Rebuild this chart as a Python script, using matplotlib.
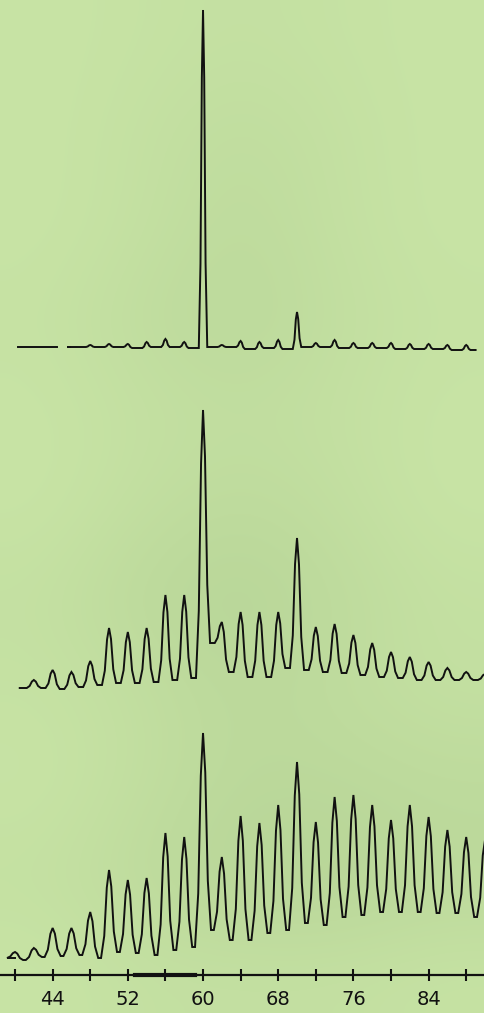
import numpy as np
import matplotlib
matplotlib.use("Agg")
import matplotlib.pyplot as plt
from matplotlib.colors import LinearSegmentedColormap

# cluster sizes (even carbon numbers), peak heights and the valley level right after each peak
n_top = [46, 48, 50, 52, 54, 56, 58, 60, 62, 64, 66, 68, 70, 72, 74, 76, 78, 80, 82, 84, 86, 88]
peak_top = [0, 2, 3, 3, 5, 8, 5, 337, 2, 6, 5, 7, 35, 4, 7, 4, 4, 4, 3, 3, 2, 2]
valley_top = [0, 0, 0, -1, 0, 0, -1, 0, 0, -2, -1, -2, 0, 0, -1, -1, -1, -2, -2, -2, -3, -3]

n_mid = [42, 44, 46, 48, 50, 52, 54, 56, 58, 60, 62, 64, 66, 68, 70, 72, 74, 76, 78, 80, 82, 84, 86, 88, 90]
peak_mid = [8, 18, 16, 27, 60, 56, 60, 93, 93, 278, 66, 76, 76, 76, 150, 61, 64, 53, 45, 36, 31, 26, 20, 16, 14]
valley_mid = [0, -1, 1, 3, 5, 5, 6, 8, 10, 45, 16, 11, 11, 20, 18, 16, 15, 13, 11, 10, 8, 8, 8, 8, 8]

n_bot = [40, 42, 44, 46, 48, 50, 52, 54, 56, 58, 60, 62, 64, 66, 68, 70, 72, 74, 76, 78, 80, 82, 84, 86, 88, 90]
peak_bot = [8, 12, 32, 32, 48, 90, 80, 82, 127, 123, 227, 103, 144, 137, 155, 198, 138, 163, 165, 155, 140, 155, 143, 130, 123, 120]
valley_bot = [0, 3, 4, 5, 2, 8, 7, 5, 10, 13, 30, 20, 20, 27, 30, 37, 35, 43, 45, 48, 48, 48, 47, 47, 43, 43]

tick_pos = list(range(40, 92, 4))
tick_lab = ["", "44", "", "52", "", "60", "", "68", "", "76", "", "84", ""]

# rough shading of the scanned page (0 = light, 1 = darkest), coarse grid top to bottom
shade = [
    [0.0, 0.1, 0.2, 0.1, 0.0],
    [0.0, 0.2, 0.4, 0.2, 0.0],
    [0.0, 0.2, 0.5, 0.2, 0.0],
    [0.1, 0.4, 0.6, 0.3, 0.1],
    [0.0, 0.2, 0.3, 0.2, 0.0],
    [0.0, 0.3, 0.5, 0.3, 0.0],
    [0.2, 0.6, 0.8, 0.5, 0.2],
    [0.1, 0.3, 0.6, 0.4, 0.2],
    [0.0, 0.3, 0.6, 0.6, 0.5],
    [0.2, 0.5, 0.8, 0.8, 0.6],
    [0.0, 0.2, 0.2, 0.2, 0.1],
]

bg = "#c8e4a5"
ink = "#111111"
shape_dx = [-1.0, -0.6, -0.28, 0.0, 0.28, 0.6, 1.0]
shape_fr = [0.0, 0.25, 0.8, 1.0, 0.8, 0.25, 0.0]


def trace(ax, n, peak, valley, base, x0, v0, w):
    xs = [x0]
    ys = [base + v0]
    prev = v0
    for k in range(len(n)):
        for d, f in zip(shape_dx, shape_fr):
            lo = prev if d < 0 else valley[k]
            xs.append(n[k] + d * w)
            ys.append(base + lo + f * (peak[k] - lo))
        prev = valley[k]
    xs.append(n[-1] + 1.0)
    ys.append(base + prev)
    ax.plot(xs, ys, color=ink, lw=1.4, solid_joinstyle="miter")


fig = plt.figure(figsize=(4.85, 10.13), dpi=100)
fig.patch.set_facecolor(bg)

back = fig.add_axes([0, 0, 1, 1])
back.axis("off")
cmap = LinearSegmentedColormap.from_list("paper", [bg, "#b3d194"])
back.imshow(np.array(shade), cmap=cmap, vmin=0, vmax=1, aspect="auto",
            interpolation="bicubic", extent=[0, 1, 0, 1])
back.set_xlim(0, 1)
back.set_ylim(0, 1)

ax = fig.add_axes([0, 0, 1, 1])
ax.patch.set_alpha(0)

# top trace: short lead-in line, a gap, then the spectrum
ax.plot([40.3, 44.5], [666, 666], color=ink, lw=1.4)
trace(ax, n_top, peak_top, valley_top, 666, 45.8, 0, 0.45)
trace(ax, n_mid, peak_mid, valley_mid, 325, 40.5, 0, 0.75)
trace(ax, n_bot, peak_bot, valley_bot, 53, 40.0, 2, 0.85)

ax.set_xlim(38.4, 90.0)
ax.set_ylim(0, 1013)
for s in ["top", "left", "right"]:
    ax.spines[s].set_visible(False)
ax.spines["bottom"].set_position(("data", 38))
ax.spines["bottom"].set_linewidth(1.6)
ax.spines["bottom"].set_color(ink)
ax.plot([52.8, 59.1], [38, 38], color=ink, lw=3)
ax.set_yticks([])
ax.set_xticks(tick_pos)
ax.set_xticklabels(tick_lab)
ax.tick_params(axis="x", direction="inout", length=9, width=1.5, color=ink,
               labelsize=14, labelcolor=ink, pad=6)

fig.savefig("out.png", dpi=100, facecolor=bg)
